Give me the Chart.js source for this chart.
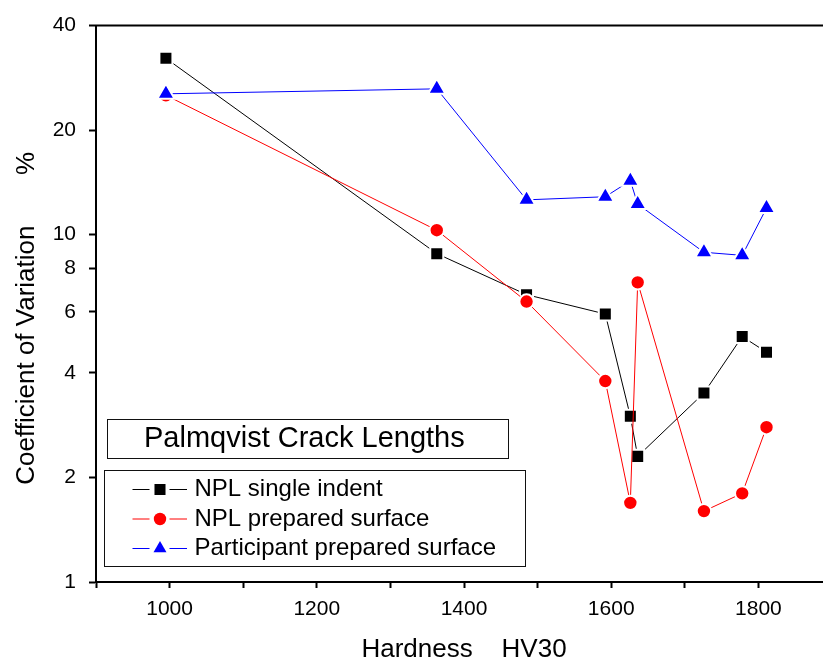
<!DOCTYPE html>
<html>
<head>
<meta charset="utf-8">
<title>Palmqvist Crack Lengths</title>
<script src="https://cdn.jsdelivr.net/npm/chart.js@4.4.0/dist/chart.umd.min.js"></script>
<style>
  html, body { margin: 0; padding: 0; background: #fff; overflow: hidden; }
  #chart { display: block; }
</style>
</head>
<body>
<canvas id="chart" width="845" height="663"></canvas>
<script>
// Hardness HV30 of each block
const hardness = [995, 1363, 1485, 1592, 1626, 1636, 1726, 1778, 1811];

// Coefficient of variation (%)
const nplSingleIndent = [32.2, 8.82, 6.72, 5.91, 3.0, 2.30, 3.50, 5.09, 4.59];
const nplPreparedSurface = [25.2, 10.3, 6.42, 3.79, 1.69, 7.29, 1.60, 1.80, 2.79];
const participantPreparedSurface = [25.45, 26.3, 12.6, 12.86, 14.3, 12.25, 8.9, 8.72, 11.93];

const seriesLabels = ['NPL single indent', 'NPL prepared surface', 'Participant prepared surface'];
const legendTitle = 'Palmqvist Crack Lengths';

const yTicks = [1, 2, 4, 6, 8, 10, 20, 40];
const xTickLabels = [1000, 1200, 1400, 1600, 1800];

const FONT = 'Arial, "Liberation Sans", sans-serif';

// Legend marker sizes (no white halo there)
const legendRadius = { rect: 7.8, circle: 6.2, triangle: 7.5 };

function series(label, values, color, style, radius, order) {
    return {
        label: label,
        data: hardness.map((h, i) => ({ x: h, y: values[i] })),
        borderColor: color,
        backgroundColor: color,
        borderWidth: 1,
        pointStyle: style,
        pointRadius: radius,
        pointHoverRadius: radius,
        pointBackgroundColor: color,
        pointBorderColor: '#ffffff',
        pointBorderWidth: 2,
        order: order,
    };
}

// Top axis line plus the boxed title and legend inside the plot
const boxes = {
    id: 'boxes',
    afterDraw(chart) {
        const { ctx, chartArea: a } = chart;
        ctx.save();

        ctx.strokeStyle = '#000';
        ctx.lineWidth = 2;
        ctx.beginPath();
        ctx.moveTo(a.left - 1, a.top);
        ctx.lineTo(a.right, a.top);
        ctx.stroke();

        // title box
        ctx.lineWidth = 1;
        ctx.strokeStyle = '#111';
        ctx.strokeRect(a.left + 11.5, a.bottom - 162.5, 401, 39);
        ctx.fillStyle = '#000';
        ctx.font = '29px ' + FONT;
        ctx.textBaseline = 'middle';
        ctx.textAlign = 'left';
        ctx.fillText(legendTitle, a.left + 48, a.bottom - 143);

        // legend box
        ctx.strokeRect(a.left + 8.5, a.bottom - 111.5, 421, 96);
        ctx.font = '24px ' + FONT;
        chart.data.datasets.forEach((ds, i) => {
            const y = a.bottom - 92.5 + i * 29.5;
            const mx = a.left + 64;
            ctx.strokeStyle = ds.borderColor;
            ctx.lineWidth = 1;
            ctx.beginPath();
            ctx.moveTo(a.left + 36.5, y);
            ctx.lineTo(a.left + 53.5, y);
            ctx.moveTo(a.left + 73.5, y);
            ctx.lineTo(a.left + 91, y);
            ctx.stroke();
            ctx.fillStyle = ds.borderColor;
            Chart.helpers.drawPoint(ctx, {
                pointStyle: ds.pointStyle,
                radius: legendRadius[ds.pointStyle],
                rotation: 0,
                borderWidth: 0,
            }, mx, y);
            ctx.fillStyle = '#000';
            ctx.fillText(ds.label, a.left + 98.5, y);
        });
        ctx.restore();
    }
};

const chart = new Chart(document.getElementById('chart'), {
    type: 'line',
    data: {
        datasets: [
            series(seriesLabels[0], nplSingleIndent, '#000000', 'rect', 9.2, 3),
            series(seriesLabels[1], nplPreparedSurface, '#ff0000', 'circle', 7.2, 2),
            series(seriesLabels[2], participantPreparedSurface, '#0000ff', 'triangle', 10, 1),
        ]
    },
    options: {
        responsive: false,
        animation: false,
        layout: { padding: { top: 25, right: 13, left: 0, bottom: 0 } },
        plugins: {
            legend: { display: false },
            tooltip: { enabled: false },
        },
        scales: {
            x: {
                type: 'linear',
                min: 900,
                max: 1900,
                border: { display: true, color: '#000', width: 2 },
                grid: { drawOnChartArea: false, drawTicks: true, tickLength: 6, tickWidth: 2, tickColor: '#000' },
                ticks: {
                    stepSize: 100,
                    autoSkip: false,
                    maxRotation: 0,
                    padding: 9,
                    color: '#000',
                    font: { family: FONT, size: 21 },
                    callback: v => xTickLabels.includes(v) ? String(v) : '',
                },
                title: {
                    display: true,
                    text: 'Hardness    HV30',
                    color: '#000',
                    font: { family: FONT, size: 26, lineHeight: 1 },
                    padding: 0,
                },
                afterFit(s) { s.height = 81; },
            },
            y: {
                type: 'logarithmic',
                min: 1,
                max: 40,
                border: { display: true, color: '#000', width: 2 },
                grid: { drawOnChartArea: false, drawTicks: true, tickLength: 7, tickWidth: 2, tickColor: '#000' },
                afterBuildTicks(s) { s.ticks = yTicks.map(v => ({ value: v })); },
                ticks: {
                    autoSkip: false,
                    padding: 13,
                    color: '#000',
                    font: { family: FONT, size: 21 },
                    callback: v => String(v),
                },
                title: {
                    display: true,
                    text: 'Coefficient of Variation       %    ',
                    color: '#000',
                    font: { family: FONT, size: 26, lineHeight: 1 },
                    padding: { top: 14, bottom: 0 },
                },
                afterFit(s) { s.width = 96; },
            }
        }
    },
    plugins: [boxes]
});
</script>
</body>
</html>
